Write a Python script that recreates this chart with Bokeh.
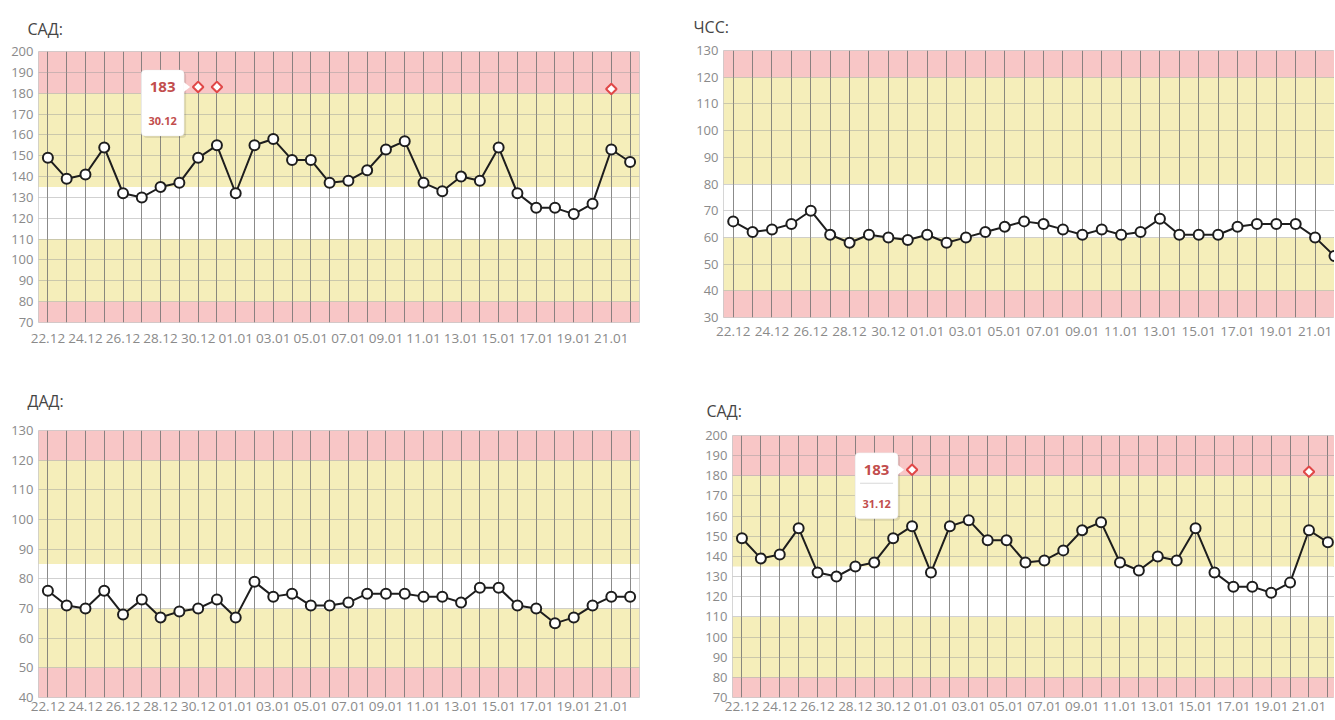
from bokeh.plotting import figure
from bokeh.layouts import row, column
from bokeh.models import FixedTicker, BoxAnnotation, Label, PolyAnnotation
from bokeh.embed import file_html
from bokeh.resources import INLINE

# ---------------- data ----------------
dates = ["22.12", "23.12", "24.12", "25.12", "26.12", "27.12", "28.12", "29.12", "30.12", "31.12",
         "01.01", "02.01", "03.01", "04.01", "05.01", "06.01", "07.01", "08.01", "09.01", "10.01",
         "11.01", "12.01", "13.01", "14.01", "15.01", "16.01", "17.01", "18.01", "19.01", "20.01",
         "21.01", "22.01"]

sad_values = [149, 139, 141, 154, 132, 130, 135, 137, 149, 155, 132, 155, 158, 148, 148, 137,
              138, 143, 153, 157, 137, 133, 140, 138, 154, 132, 125, 125, 122, 127, 153, 147]
sad_peak_dates = ["30.12", "31.12", "21.01"]
sad_peak_values = [183, 183, 182]

hr_values = [66, 62, 63, 65, 70, 61, 58, 61, 60, 59, 61, 58, 60, 62, 64, 66,
             65, 63, 61, 63, 61, 62, 67, 61, 61, 61, 64, 65, 65, 65, 60, 53]

dad_values = [76, 71, 70, 76, 68, 73, 67, 69, 70, 73, 67, 79, 74, 75, 71, 71,
              72, 75, 75, 75, 74, 74, 72, 77, 77, 71, 70, 65, 67, 71, 74, 74]

sad_bands = [(70, 80, "red"), (80, 110, "yellow"), (110, 135, "white"), (135, 180, "yellow"), (180, 200, "red")]
hr_bands = [(30, 40, "red"), (40, 60, "yellow"), (60, 80, "white"), (80, 120, "yellow"), (120, 130, "red")]
dad_bands = [(40, 50, "red"), (50, 70, "yellow"), (70, 85, "white"), (85, 120, "yellow"), (120, 130, "red")]

# ---------------- styles ----------------
ZONE_COLORS = {"red": "#f8c6c6", "yellow": "#f5eeba", "white": "#ffffff"}
FONT = "Open Sans"
TIP_RED = "#c24d4d"


def make_chart(title, values, bands, y_lo, y_hi, width, height, mb, title_offset, title_standoff,
               xlabel_standoff, x_end=31.5, peak_dates=None, peak_values=None, tip_date=None,
               tip_sep=True):
    xs = list(range(len(dates)))
    p = figure(width=width, height=height, x_range=(-0.5, x_end), y_range=(y_lo, y_hi),
               output_backend="svg", toolbar_location=None,
               min_border_left=mb[0], min_border_right=mb[1],
               min_border_top=mb[2], min_border_bottom=mb[3])
    frame_w = width - mb[0] - mb[1]
    frame_h = height - mb[2] - mb[3]

    p.title.text = title
    p.title.align = "left"
    p.title.offset = title_offset
    p.title.standoff = title_standoff
    p.title.text_font = FONT
    p.title.text_font_size = "16px"
    p.title.text_font_style = "normal"
    p.title.text_color = "#454545"

    p.outline_line_color = "#c8c8c8"
    p.background_fill_color = "white"
    p.border_fill_color = "white"

    for lo, hi, zone in bands:
        p.add_layout(BoxAnnotation(bottom=lo, top=hi, fill_color=ZONE_COLORS[zone], fill_alpha=1.0,
                                   line_alpha=0, level="image"))

    p.xaxis.ticker = FixedTicker(ticks=list(range(0, len(dates) - 1, 2)))
    p.xaxis.major_label_overrides = {i: dates[i] for i in range(0, len(dates) - 1, 2)}
    p.yaxis.ticker = FixedTicker(ticks=list(range(y_lo, y_hi + 1, 10)))
    p.xgrid.ticker = FixedTicker(ticks=xs)
    p.ygrid.ticker = FixedTicker(ticks=list(range(y_lo, y_hi + 1, 10)))
    p.xgrid.grid_line_color = "#6e6e6e"
    p.xgrid.grid_line_alpha = 0.8
    p.ygrid.grid_line_color = "#9a9a9a"
    p.ygrid.grid_line_alpha = 0.45

    for ax in (p.xaxis, p.yaxis):
        ax.axis_line_color = None
        ax.major_tick_line_color = None
        ax.minor_tick_line_color = None
        ax.major_tick_out = 0
        ax.major_tick_in = 0
        ax.minor_tick_out = 0
        ax.minor_tick_in = 0
        ax.major_label_text_font = FONT
        ax.major_label_text_color = "#8a8a8a"
    p.xaxis.major_label_text_font_size = "13.5px"
    p.yaxis.major_label_text_font_size = "13px"
    p.xaxis.major_label_standoff = xlabel_standoff
    p.yaxis.major_label_standoff = 5

    p.line(xs, values, line_color="#1e1e1e", line_width=2)
    p.scatter(xs, values, marker="circle", size=10, fill_color="white",
              line_color="#1e1e1e", line_width=2)

    if peak_dates:
        px = [dates.index(d) for d in peak_dates]
        p.scatter(px, peak_values, marker="square", angle=0.785398, size=7.5,
                  fill_color="white", line_color="#e04848", line_width=2)

    if tip_date:
        ppx = frame_w / (x_end + 0.5)
        ppy = frame_h / (y_hi - y_lo)
        ax_ = dates.index(tip_date)
        ay_ = peak_values[peak_dates.index(tip_date)]

        def dx(v):
            return v / ppx

        def dy(v):
            return v / ppy

        # shadow
        p.add_layout(BoxAnnotation(left=ax_ + dx(-55), right=ax_ + dx(-12), top=ay_ + dy(15),
                                   bottom=ay_ - dy(51), fill_color="#000000", fill_alpha=0.10,
                                   line_alpha=0, border_radius=4))
        p.add_layout(BoxAnnotation(left=ax_ + dx(-57), right=ax_ + dx(-14), top=ay_ + dy(17),
                                   bottom=ay_ - dy(49), fill_color="white", fill_alpha=1.0,
                                   line_color="#dcdcdc", line_width=1, border_radius=4))
        p.add_layout(PolyAnnotation(xs=[ax_ + dx(-14.5), ax_ + dx(-8), ax_ + dx(-14.5)],
                                    ys=[ay_ + dy(5), ay_, ay_ - dy(5)],
                                    fill_color="white", fill_alpha=1.0, line_alpha=0))
        if tip_sep:
            p.add_layout(BoxAnnotation(left=ax_ + dx(-52), right=ax_ + dx(-19), top=ay_ - dy(13),
                                       bottom=ay_ - dy(14), fill_color="#d8d8d8", fill_alpha=1.0,
                                       line_alpha=0))
        p.add_layout(Label(x=ax_ + dx(-35.5), y=ay_, text=str(ay_), text_align="center",
                           text_baseline="middle", text_font=FONT, text_font_size="15px",
                           text_font_style="bold", text_color=TIP_RED))
        p.add_layout(Label(x=ax_ + dx(-35.5), y=ay_ - dy(34), text=tip_date, text_align="center",
                           text_baseline="middle", text_font=FONT, text_font_size="11px",
                           text_font_style="bold", text_color=TIP_RED))
    return p


# page origin (0,0); left column x 0..660, right column x 660..1334; heights sum to 719
chart_a = make_chart("САД:", sad_values, sad_bands, 70, 200, 660, 365, (38, 21, 51, 43), -11, 24, 11,
                     peak_dates=sad_peak_dates, peak_values=sad_peak_values, tip_date="30.12",
                     tip_sep=False)
chart_c = make_chart("ДАД:", dad_values, dad_bands, 40, 130, 660, 354, (38, 21, 65, 22), -11, 38, 4)
chart_b = make_chart("ЧСС:", hr_values, hr_bands, 30, 130, 674, 360, (63, 0, 50, 43), -30, 26, 9,
                     x_end=31.0)
chart_d = make_chart("САД:", sad_values, sad_bands, 70, 200, 674, 359, (72, 0, 75, 22), -26, 28, 4,
                     x_end=31.35, peak_dates=sad_peak_dates, peak_values=sad_peak_values,
                     tip_date="31.12")

# each figure wrapped on its own so frames are not aligned across the column
layout = row(column(row(chart_a), row(chart_c), spacing=0),
             column(row(chart_b), row(chart_d), spacing=0), spacing=0)

open("out.html", "w").write(file_html(layout, INLINE))
